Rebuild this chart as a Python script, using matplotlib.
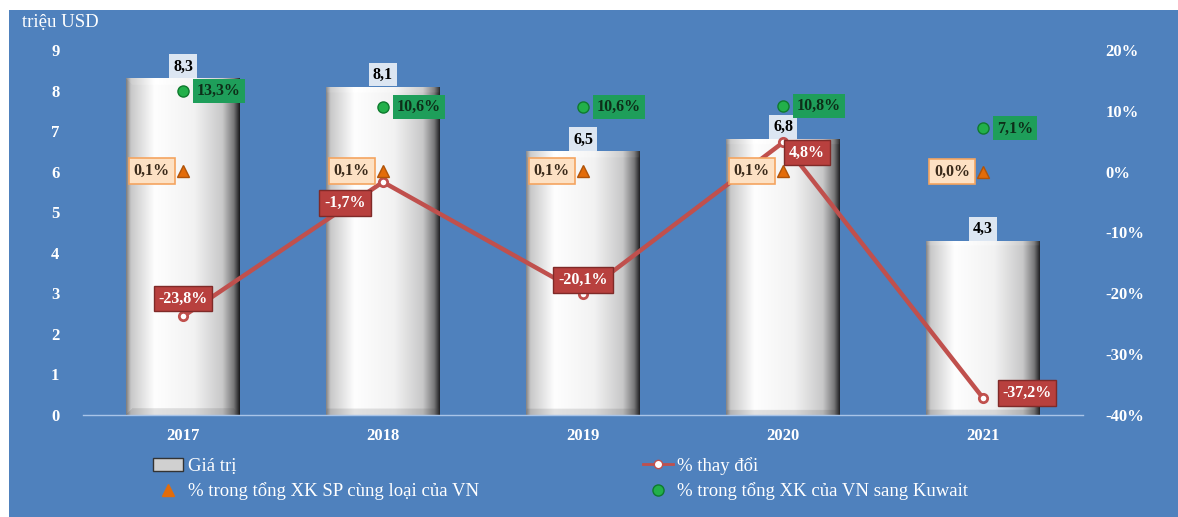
import numpy as np
import matplotlib.pyplot as plt
from matplotlib.patches import Rectangle, Patch
from matplotlib.lines import Line2D
from matplotlib.ticker import FuncFormatter

plt.rcParams['font.family'] = ['Liberation Serif', 'DejaVu Serif']

# du lieu
years = ['2017', '2018', '2019', '2020', '2021']
gia_tri = [8.3, 8.1, 6.5, 6.8, 4.3]               # trieu USD
thay_doi = [-23.8, -1.7, -20.1, 4.8, -37.2]       # %
ty_trong_sp = [0.1, 0.1, 0.1, 0.1, 0.0]           # % trong tong XK SP cung loai cua VN
ty_trong_kw = [13.3, 10.6, 10.6, 10.8, 7.1]       # % trong tong XK cua VN sang Kuwait

# offset (pixel) cua nhan % thay doi
red_off = [(0, 18), (-38, -21), (0, 14), (24, -10), (44, 5)]

BG = '#4F81BD'
RED = '#C0504D'


def vn(v, nd=1):
    return f"{v:.{nd}f}".replace('.', ',')


def bar_image(w, h):
    # gradient bac cho cot
    xs = np.linspace(0, 1, w)
    prof = np.interp(xs, [0, 0.04, 0.25, 0.6, 0.85, 0.95, 1.0],
                     [130, 200, 254, 242, 200, 120, 30])
    img = np.tile(prof, (h, 1))
    bev = 7
    for j in range(min(bev, h)):
        # mep duoi toi hon
        img[h - 1 - j, j:w - j] = np.clip(prof[j:w - j] * 0.85 + 10, 0, 255)
        # mep tren sang hon
        img[j, j:w - j] = np.clip(prof[j:w - j] * 0.95 + 15, 0, 255)
    img = img / 255.0
    return np.dstack([img, img, img * 0.99 + 0.01])


fig = plt.figure(figsize=(11.78, 5.17), dpi=100)
fig.patch.set_facecolor('white')
fig.patches.append(Rectangle((9 / 1178, 0), 1, 1 - 10 / 517, transform=fig.transFigure,
                             facecolor=BG, edgecolor='none', zorder=-10))

ax = fig.add_axes([83 / 1178, 1 - 415 / 517, 1000 / 1178, 365 / 517])
ax.set_facecolor('none')
x = np.arange(len(years))
bars = ax.bar(x, gia_tri, width=0.57, facecolor='none', edgecolor='none')
fig.canvas.draw()
for b in bars:
    bb = b.get_window_extent()
    im = ax.imshow(bar_image(max(int(bb.width), 2), max(int(bb.height), 2)),
                   extent=[b.get_x(), b.get_x() + b.get_width(), 0, b.get_height()],
                   aspect='auto', zorder=2, interpolation='bilinear')
    im.set_clip_path(b)

ax.set_xlim(-0.5, len(years) - 0.5)
ax.set_ylim(0, 9)
ax.set_yticks(range(10))
ax.set_xticks(x)
ax.set_xticklabels(years)
for s in ['top', 'right', 'left']:
    ax.spines[s].set_visible(False)
ax.spines['bottom'].set_color('#a9c4e8')
ax.spines['bottom'].set_linewidth(1.0)
ax.tick_params(axis='y', length=0, pad=17, labelcolor='white', labelsize=12)
ax.tick_params(axis='x', length=0, pad=9, labelcolor='white', labelsize=12)
for t in ax.get_xticklabels() + ax.get_yticklabels():
    t.set_fontweight('bold')

for xi, v in zip(x, gia_tri):
    ax.annotate(vn(v), (xi, v), xytext=(0, 12), textcoords='offset pixels',
                ha='center', va='center', fontsize=11.5, fontweight='bold', color='black',
                bbox=dict(boxstyle='square,pad=0.25', fc='#DCE6F2', ec='none'), zorder=6)

fig.text(22 / 1178, 1 - 22 / 517, 'triệu USD', color='white', fontsize=13.5, va='center')

ax2 = ax.twinx()
ax2.set_ylim(-40, 20)
ax2.set_yticks(range(-40, 21, 10))
ax2.yaxis.set_major_formatter(FuncFormatter(lambda v, p: f"{v:.0f}%"))
for s in ax2.spines.values():
    s.set_visible(False)
ax2.tick_params(axis='y', length=0, pad=16, labelcolor='white', labelsize=12)
for t in ax2.get_yticklabels():
    t.set_fontweight('bold')

# duong % thay doi
ax2.plot(x, thay_doi, color=RED, lw=3.2, marker='o', ms=6, mfc='white', mec=RED, mew=2,
         zorder=4, solid_capstyle='round')
for xi, v, off in zip(x, thay_doi, red_off):
    ax2.annotate(vn(v) + '%', (xi, v), xytext=off, textcoords='offset pixels',
                 ha='center', va='center', fontsize=11.5, fontweight='bold', color='white',
                 bbox=dict(boxstyle='square,pad=0.3', fc='#B8403E', ec='#7F2A28', lw=1), zorder=7)

# tam giac: % trong tong XK SP cung loai
ax2.plot(x, ty_trong_sp, ls='none', marker='^', ms=9, color='#E36C0A', mec='#B0540A', zorder=5)
for xi, v in zip(x, ty_trong_sp):
    ax2.annotate(vn(v) + '%', (xi, v), xytext=(-13, 0), textcoords='offset pixels',
                 ha='right', va='center', fontsize=11.5, fontweight='bold', color='#3a2a1a',
                 bbox=dict(boxstyle='square,pad=0.3', fc='#FDE1C4', ec='#F4A460', lw=1.2), zorder=6)

# cham xanh: % trong tong XK sang Kuwait
ax2.plot(x, ty_trong_kw, ls='none', marker='o', ms=8, color='#22B04A', mec='#0E7A2E', zorder=5)
for xi, v in zip(x, ty_trong_kw):
    ax2.annotate(vn(v) + '%', (xi, v), xytext=(14, 0), textcoords='offset pixels',
                 ha='left', va='center', fontsize=11.5, fontweight='bold', color='#0D2E18',
                 bbox=dict(boxstyle='square,pad=0.25', fc='#1E9E5A', ec='none'), zorder=6)

handles = [
    Patch(facecolor='#d0d0d0', edgecolor='#333333', label='Giá trị'),
    Line2D([], [], ls='none', marker='^', ms=8, color='#E36C0A', label='% trong tổng XK SP cùng loại của VN'),
    Line2D([], [], color=RED, lw=2, marker='o', ms=6, mfc='white', mec=RED, label='% thay đổi'),
    Line2D([], [], ls='none', marker='o', ms=8, color='#22B04A', mec='#0E7A2E', label='% trong tổng XK của VN sang Kuwait'),
]
leg = fig.legend(handles=handles, ncol=2, loc='upper left',
                 bbox_to_anchor=(136 / 1178, 1 - 440 / 517), frameon=False,
                 fontsize=13.5, labelcolor='white', columnspacing=8.75,
                 handlelength=1.6, handletextpad=0.25, labelspacing=0.4)

fig.savefig('out.png', dpi=100, facecolor=fig.get_facecolor())
